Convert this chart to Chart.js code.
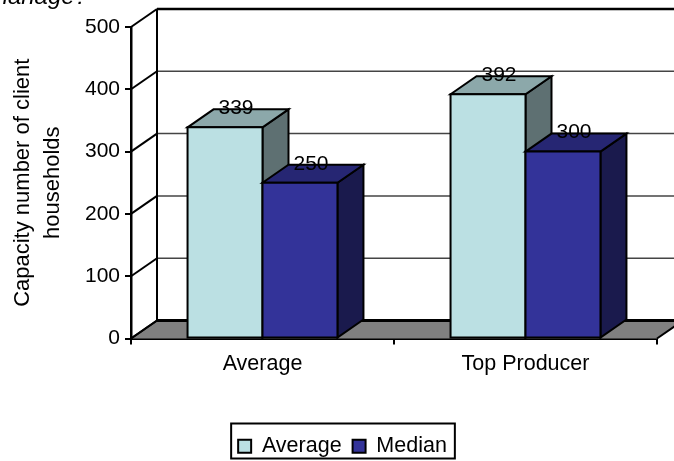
<!DOCTYPE html>
<html>
<head>
<meta charset="utf-8">
<script src="https://cdn.jsdelivr.net/npm/chart.js@4"></script>
<style>
  html, body { margin: 0; padding: 0; background: #fff; overflow: hidden; }
  canvas { display: block; }
</style>
</head>
<body>
<canvas id="chart" width="674" height="461"></canvas>
<script>
const categories = ['Average', 'Top Producer'];
const averageValues = [339, 392];
const medianValues = [250, 300];
const seriesNames = ['Average', 'Median'];
const axisTitleLines = ['Capacity number of client', 'households'];
const captionTail = 'manage?';

const FONT = '"Liberation Sans", Arial, sans-serif';
const VALUE_SIZE = 21;
const LABEL_SIZE = 21.5;
const DEPTH_X = 26;
const DEPTH_Y = -18;
const EDGE = 2;

function poly(ctx, pts, fill, stroke, width) {
  ctx.beginPath();
  pts.forEach(([x, y], i) => (i ? ctx.lineTo(x, y) : ctx.moveTo(x, y)));
  ctx.closePath();
  if (fill) { ctx.fillStyle = fill; ctx.fill(); }
  if (stroke) { ctx.strokeStyle = stroke; ctx.lineWidth = width; ctx.lineJoin = 'miter'; ctx.stroke(); }
}

function line(ctx, x1, y1, x2, y2, color, width) {
  ctx.beginPath();
  ctx.moveTo(x1, y1);
  ctx.lineTo(x2, y2);
  ctx.strokeStyle = color;
  ctx.lineWidth = width;
  ctx.stroke();
}

// Back wall, side wall and floor of the 3D box, placed from the y scale.
const boxWalls = {
  id: 'boxWalls',
  beforeDatasetsDraw(chart) {
    const { ctx, scales: { x, y } } = chart;
    const left = x.left, right = x.right, base = y.getPixelForValue(0);
    ctx.save();
    poly(ctx, [[left, base], [left + DEPTH_X, base + DEPTH_Y], [right + DEPTH_X, base + DEPTH_Y], [right, base]], '#808080');
    line(ctx, left + DEPTH_X, base + DEPTH_Y, right + DEPTH_X, base + DEPTH_Y, '#000', 3);
    line(ctx, left, base, left + DEPTH_X, base + DEPTH_Y, '#000', EDGE);
    line(ctx, right, base, right + DEPTH_X, base + DEPTH_Y, '#000', EDGE);
    y.ticks.forEach(t => {
      const py = y.getPixelForValue(t.value);
      if (t.value !== 0) {
        line(ctx, left + DEPTH_X, py + DEPTH_Y, right + DEPTH_X, py + DEPTH_Y,
             t.value === y.max ? '#000' : '#444', t.value === y.max ? 2.5 : 1.5);
      }
      line(ctx, left, py, left + DEPTH_X, py + DEPTH_Y, '#000', EDGE);
    });
    line(ctx, left + DEPTH_X, y.getPixelForValue(y.max) + DEPTH_Y, left + DEPTH_X, base + DEPTH_Y, '#000', EDGE);
    ctx.restore();
  }
};

// Extrudes each bar, series by series, then writes the value labels on top.
const extrudedBars = {
  id: 'extrudedBars',
  afterDatasetsDraw(chart) {
    const ctx = chart.ctx;
    const metas = chart.data.datasets.map((d, i) => chart.getDatasetMeta(i));
    ctx.save();
    metas.forEach((meta, di) => {
      const ds = chart.data.datasets[di];
      meta.data.forEach(bar => {
        const l = bar.x - bar.width / 2, r = bar.x + bar.width / 2, t = bar.y, b = bar.base;
        poly(ctx, [[r, t], [r + DEPTH_X, t + DEPTH_Y], [r + DEPTH_X, b + DEPTH_Y], [r, b]], ds.sideColor, '#000', EDGE);
        poly(ctx, [[l, t], [l + DEPTH_X, t + DEPTH_Y], [r + DEPTH_X, t + DEPTH_Y], [r, t]], ds.topColor, '#000', EDGE);
        poly(ctx, [[l, t], [r, t], [r, b], [l, b]], ds.backgroundColor, '#000', EDGE);
      });
    });
    ctx.fillStyle = '#000';
    ctx.font = VALUE_SIZE + 'px ' + FONT;
    ctx.textAlign = 'center';
    ctx.textBaseline = 'middle';
    metas.forEach((meta, di) => {
      meta.data.forEach((bar, i) => {
        ctx.fillText(String(chart.data.datasets[di].data[i]), bar.x + 11, bar.y - 19);
      });
    });
    ctx.restore();
  }
};

// Moves the legend under the plot, frames it, and adds the caption fragment.
const frameAndCaption = {
  id: 'frameAndCaption',
  afterLayout(chart) {
    const legend = chart.legend;
    const dx = 14, dy = 6;
    legend.left += dx; legend.right += dx;
    legend.top += dy; legend.bottom += dy;
    legend.legendHitBoxes.forEach(h => { h.left += dx; h.top += dy; });
  },
  afterDraw(chart) {
    const { ctx, legend } = chart;
    const hits = legend.legendHitBoxes;
    const l = Math.min(...hits.map(h => h.left)) - 7;
    const r = Math.max(...hits.map(h => h.left + h.width)) + 8;
    const t = Math.min(...hits.map(h => h.top)) - 18;
    ctx.save();
    ctx.strokeStyle = '#000';
    ctx.lineWidth = EDGE;
    ctx.strokeRect(l, t, r - l, 35);
    ctx.fillStyle = '#000';
    ctx.font = 'italic 24px ' + FONT;
    ctx.textAlign = 'right';
    ctx.textBaseline = 'alphabetic';
    ctx.fillText(captionTail, 88, 4);
    ctx.restore();
  }
};

new Chart(document.getElementById('chart'), {
  type: 'bar',
  data: {
    labels: categories,
    datasets: [
      { label: seriesNames[0], data: averageValues, backgroundColor: '#BBE0E3', topColor: '#8CA8AA', sideColor: '#5E7072', borderColor: '#000', borderWidth: EDGE },
      { label: seriesNames[1], data: medianValues, backgroundColor: '#333399', topColor: '#262673', sideColor: '#1A1A4D', borderColor: '#000', borderWidth: EDGE }
    ]
  },
  options: {
    responsive: false,
    animation: false,
    layout: { padding: { top: 27, right: 17, bottom: 0, left: 0 } },
    datasets: { bar: { categoryPercentage: 0.57, barPercentage: 1 } },
    plugins: {
      tooltip: { enabled: false },
      legend: {
        position: 'bottom',
        labels: {
          boxWidth: 13, boxHeight: 13, padding: 11,
          color: '#000',
          font: { family: FONT, size: LABEL_SIZE }
        }
      }
    },
    scales: {
      x: {
        afterFit: s => { s.height = 80; },
        grid: { drawOnChartArea: false, color: '#000', tickLength: 6, lineWidth: EDGE },
        border: { color: '#000', width: EDGE },
        ticks: { color: '#000', font: { family: FONT, size: LABEL_SIZE }, padding: 7 }
      },
      y: {
        min: 0, max: 500,
        afterFit: s => { s.width = 131; },
        title: {
          display: true,
          text: axisTitleLines,
          color: '#000',
          font: { family: FONT, size: 22, lineHeight: 1.37 },
          padding: { top: 8, bottom: 0 }
        },
        grid: { drawOnChartArea: false, color: '#000', tickLength: 6, lineWidth: EDGE },
        border: { color: '#000', width: 2.5 },
        ticks: { stepSize: 100, color: '#000', font: { family: FONT, size: VALUE_SIZE }, padding: 5 }
      }
    }
  },
  plugins: [boxWalls, extrudedBars, frameAndCaption]
});
</script>
</body>
</html>
